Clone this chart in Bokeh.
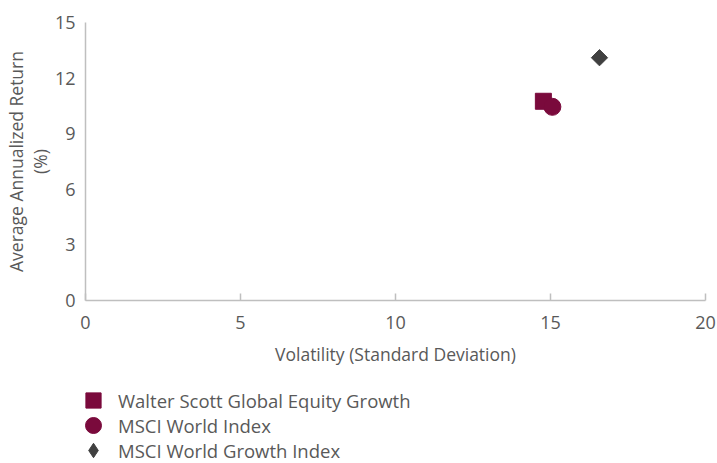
import math
from bokeh.plotting import figure
from bokeh.layouts import column
from bokeh.models import (ColumnDataSource, Legend, LegendItem, FixedTicker, Range1d,
                          LinearAxis)
from bokeh.embed import file_html
from bokeh.resources import INLINE

# ---- data ----
series_names = ["Walter Scott Global Equity Growth", "MSCI World Index", "MSCI World Growth Index"]
volatility = [14.77, 15.06, 16.58]
avg_return = [10.75, 10.45, 13.1]
x_ticks = [0, 5, 10, 15, 20]
y_ticks = [0, 3, 6, 9, 12, 15]

MAROON = "#7a0a3c"
DARK = "#404040"
TEXT = "#595959"
AXIS = "#bfbfbf"
FONT = "Open Sans"

W = 717
H1 = 380          # chart part
H2 = 463 - H1     # legend part
FL = 85           # frame left (px)

p = figure(width=W, height=H1, output_backend="svg", toolbar_location=None,
           x_range=Range1d(0, 20), y_range=Range1d(0, 15),
           min_border_left=FL, min_border_right=12, min_border_top=22, min_border_bottom=80)
p.outline_line_color = None
p.grid.visible = False
p.background_fill_color = "white"
p.border_fill_color = "white"

xa = p.xaxis[0]
ya = p.yaxis[0]
xa.ticker = FixedTicker(ticks=x_ticks)
ya.ticker = FixedTicker(ticks=y_ticks)
for ax in (xa, ya):
    ax.axis_line_color = AXIS
    ax.axis_line_width = 1.5
    ax.major_label_text_font = FONT
    ax.major_label_text_font_size = "18px"
    ax.major_label_text_color = TEXT
    ax.axis_label_text_font = FONT
    ax.axis_label_text_font_size = "17.5px"
    ax.axis_label_text_color = TEXT
    ax.axis_label_text_font_style = "normal"
    ax.minor_tick_line_color = None
xa.major_tick_line_color = AXIS
xa.major_tick_line_width = 1.5
xa.major_tick_in = 7
xa.major_tick_out = 0
xa.major_label_standoff = 15
xa.axis_label = "Volatility (Standard Deviation)"
xa.axis_label_standoff = 10
ya.major_tick_line_color = None
ya.major_tick_in = 0
ya.major_tick_out = 0
ya.major_label_standoff = 10
ya.axis_label = "(%)"
ya.axis_label_standoff = 0

# outer y-axis carrying the first line of the y title
ya2 = LinearAxis(ticker=FixedTicker(ticks=[]), axis_line_color=None,
                 major_tick_line_color=None, minor_tick_line_color=None,
                 major_tick_in=0, major_tick_out=0, major_label_standoff=0,
                 axis_label="Average Annualized Return", axis_label_standoff=-3,
                 axis_label_text_font=FONT, axis_label_text_font_size="17.5px",
                 axis_label_text_color=TEXT, axis_label_text_font_style="normal")
p.add_layout(ya2, "left")

src = [ColumnDataSource(dict(x=[volatility[i]], y=[avg_return[i]])) for i in range(3)]
p.scatter("x", "y", source=src[0], marker="square", size=16,
          fill_color=MAROON, line_color=MAROON)
p.scatter("x", "y", source=src[1], marker="circle", size=17,
          fill_color=MAROON, line_color=MAROON)
p.scatter("x", "y", source=src[2], marker="square", size=11.5, angle=math.pi / 4,
          fill_color=DARK, line_color=DARK)

# ---- legend panel (separate figure below the chart, frames aligned) ----
p2 = figure(width=W, height=H2, output_backend="svg", toolbar_location=None,
            x_range=Range1d(0, 1), y_range=Range1d(0, 1),
            x_axis_type=None, y_axis_type=None,
            min_border_left=FL, min_border_right=12, min_border_top=0, min_border_bottom=0)
p2.outline_line_color = None
p2.background_fill_color = "white"
p2.border_fill_color = "white"

markers = ["square", "circle", "diamond"]
colors = [MAROON, MAROON, DARK]
leg_rends = [p2.scatter("x", "y", source=src[i], marker=markers[i],
                        fill_color=colors[i], line_color=colors[i]) for i in range(3)]

glyph_cx = 93 - FL
text_x = 118 - FL
specs = [(38, 20), (40, 45), (36, 70)]   # glyph box, item centre (px in legend panel)
for rend, (g, cy), name in zip(leg_rends, specs, series_names):
    leg = Legend(items=[LegendItem(label=name, renderers=[rend])],
                 location=(glyph_cx - g / 2, H2 - cy - g / 2),
                 glyph_width=g, glyph_height=g, label_height=g,
                 label_standoff=int(round(text_x - (glyph_cx + g / 2))),
                 padding=0, margin=0, spacing=0,
                 border_line_color=None, background_fill_alpha=0,
                 label_text_font=FONT, label_text_font_size="18.5px",
                 label_text_color=TEXT)
    p2.add_layout(leg, "center")

layout = column(p, p2, spacing=0)
open("out.html", "w").write(file_html(layout, INLINE))
